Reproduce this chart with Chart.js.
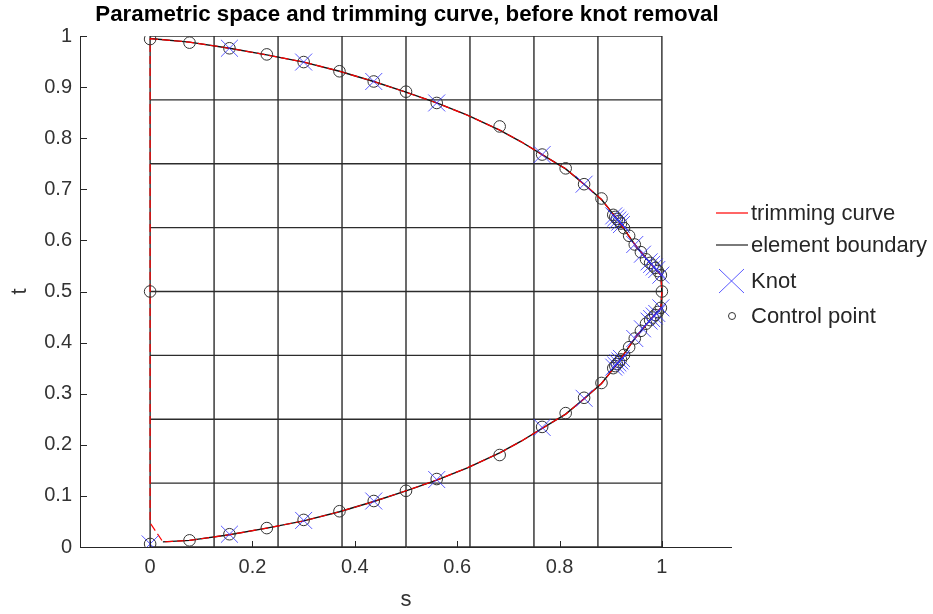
<!DOCTYPE html>
<html>
<head>
<meta charset="utf-8">
<script src="https://cdn.jsdelivr.net/npm/chart.js@4/dist/chart.umd.min.js"></script>
<style>
html,body{margin:0;padding:0;background:#fff;}
#wrap{width:933px;height:614px;position:relative;}
</style>
</head>
<body>
<div id="wrap"><canvas id="c" width="933" height="614"></canvas></div>
<script>
// ---- data ----
const titleText = 'Parametric space and trimming curve, before knot removal';
const xLabel = 's';
const yLabel = 't';
const xTicks = [0, 0.2, 0.4, 0.6, 0.8, 1];
const xTickLabels = ['0', '0.2', '0.4', '0.6', '0.8', '1'];
const yTicks = [0, 0.1, 0.2, 0.3, 0.4, 0.5, 0.6, 0.7, 0.8, 0.9, 1];
const yTickLabels = ['0', '0.1', '0.2', '0.3', '0.4', '0.5', '0.6', '0.7', '0.8', '0.9', '1'];
const xRange = [-0.137, 1.137];
const yRange = [0, 1];

// element boundaries (knot lines of the parametric space)
const elemS = [0, 0.125, 0.25, 0.375, 0.5, 0.625, 0.75, 0.875, 1];
const elemT = [0, 0.125, 0.25, 0.375, 0.5, 0.625, 0.75, 0.875, 1];

// trimming curve
const curveS = [0, 0.077, 0.155, 0.228, 0.300, 0.370, 0.437, 0.500, 0.560, 0.620, 0.683, 0.725, 0.766, 0.812, 0.848, 0.882, 0.910, 0.947, 0.975, 0.998, 1.000,
                0.998, 0.975, 0.947, 0.910, 0.882, 0.848, 0.812, 0.766, 0.725, 0.683, 0.620, 0.560, 0.500, 0.437, 0.370, 0.300, 0.228, 0.155, 0.077, 0.025, 0, 0];
const curveT = [0.995, 0.988, 0.976, 0.963, 0.949, 0.931, 0.911, 0.890, 0.869, 0.845, 0.816, 0.793, 0.768, 0.740, 0.710, 0.680, 0.645, 0.592, 0.558, 0.532, 0.500,
                0.468, 0.442, 0.408, 0.355, 0.320, 0.290, 0.260, 0.232, 0.207, 0.184, 0.155, 0.131, 0.110, 0.089, 0.069, 0.051, 0.037, 0.024, 0.013, 0.010, 0.047, 0.995];

// knots
const knotS = [0.155, 0.300, 0.437, 0.560, 0.766, 0.848, 0.906, 0.910, 0.914, 0.918, 0.921, 0.947, 0.962, 0.975, 0.980, 0.985, 0.990, 0.998,
               0.998, 0.990, 0.985, 0.980, 0.975, 0.962, 0.947, 0.921, 0.918, 0.914, 0.910, 0.906, 0.848, 0.766, 0.560, 0.437, 0.300, 0.155, 0];
const knotT = [0.976, 0.949, 0.911, 0.869, 0.768, 0.710, 0.648, 0.644, 0.640, 0.636, 0.631, 0.592, 0.573, 0.558, 0.553, 0.548, 0.543, 0.532,
               0.468, 0.457, 0.452, 0.447, 0.442, 0.427, 0.408, 0.369, 0.364, 0.360, 0.356, 0.352, 0.291, 0.234, 0.132, 0.090, 0.052, 0.025, 0.006];

// control points
const ctrlS = [0, 0.077, 0.155, 0.228, 0.300, 0.370, 0.437, 0.500, 0.560, 0.683, 0.766, 0.812, 0.848, 0.882,
               0.905, 0.909, 0.912, 0.916, 0.920, 0.926, 0.936, 0.947, 0.959, 0.969, 0.977, 0.982, 0.987, 0.992, 0.998, 1.000,
               0.998, 0.992, 0.987, 0.982, 0.977, 0.969, 0.959, 0.947, 0.936, 0.926, 0.920, 0.916, 0.912, 0.909, 0.905,
               0.882, 0.848, 0.812, 0.766, 0.683, 0.560, 0.500, 0.437, 0.370, 0.300, 0.228, 0.155, 0.077, 0, 0];
const ctrlT = [0.994, 0.987, 0.976, 0.964, 0.949, 0.931, 0.911, 0.891, 0.869, 0.823, 0.768, 0.741, 0.710, 0.682,
               0.650, 0.646, 0.642, 0.638, 0.633, 0.624, 0.609, 0.592, 0.577, 0.563, 0.556, 0.551, 0.546, 0.540, 0.532, 0.500,
               0.468, 0.460, 0.454, 0.449, 0.444, 0.437, 0.423, 0.408, 0.391, 0.376, 0.367, 0.362, 0.358, 0.354, 0.350,
               0.321, 0.292, 0.262, 0.235, 0.180, 0.133, 0.110, 0.090, 0.070, 0.053, 0.037, 0.025, 0.013, 0.006, 0.500];

const legendLabels = ['trimming curve', 'element boundary', 'Knot', 'Control point'];

// ---- build datasets ----
const gridPts = [];
elemS.forEach(s => { gridPts.push({x: s, y: elemT[0]}, {x: s, y: elemT[elemT.length - 1]}, {x: s, y: null}); });
elemT.forEach(t => { gridPts.push({x: elemS[0], y: t}, {x: elemS[elemS.length - 1], y: t}, {x: elemS[0], y: null}); });
const curvePts = curveS.map((s, i) => ({x: s, y: curveT[i]}));
const boundaryPts = curvePts.slice(0, curvePts.length - 2);
const knotPts = knotS.map((s, i) => ({x: s, y: knotT[i]}));
const ctrlPts = ctrlS.map((s, i) => ({x: s, y: ctrlT[i]}));

const FONT = "'Liberation Sans', Arial, Helvetica, sans-serif";
const AX = '#262626';
const KNOT_COL = 'rgba(50,50,255,0.8)';

const decor = {
  id: 'decor',
  afterDraw(chart) {
    const ctx = chart.ctx, xs = chart.scales.x, ys = chart.scales.y, a = chart.chartArea;
    ctx.save();
    // axes lines
    ctx.strokeStyle = AX; ctx.lineWidth = 1;
    ctx.beginPath();
    ctx.moveTo(a.left + 0.5, a.top); ctx.lineTo(a.left + 0.5, a.bottom + 0.5); ctx.lineTo(a.right, a.bottom + 0.5);
    ctx.stroke();
    // inward ticks
    ctx.beginPath();
    xTicks.forEach(v => { const p = Math.round(xs.getPixelForValue(v)) + 0.5; ctx.moveTo(p, a.bottom); ctx.lineTo(p, a.bottom - 6); });
    yTicks.forEach(v => { const p = Math.round(ys.getPixelForValue(v)) + 0.5; ctx.moveTo(a.left, p); ctx.lineTo(a.left + 7, p); });
    ctx.stroke();
    // tick labels
    ctx.fillStyle = '#333';
    ctx.font = '20px ' + FONT;
    ctx.textAlign = 'center'; ctx.textBaseline = 'middle';
    xTicks.forEach((v, i) => ctx.fillText(xTickLabels[i], xs.getPixelForValue(v), a.bottom + 20));
    ctx.textAlign = 'right';
    yTicks.forEach((v, i) => ctx.fillText(yTickLabels[i], a.left - 8, ys.getPixelForValue(v)));
    // axis titles
    ctx.font = '22px ' + FONT;
    ctx.textAlign = 'center';
    ctx.fillText(xLabel, (a.left + a.right) / 2, 600);
    ctx.save(); ctx.translate(20, (a.top + a.bottom) / 2); ctx.rotate(-Math.PI / 2);
    ctx.fillText(yLabel, 0, 0); ctx.restore();
    // title
    ctx.fillStyle = '#000';
    ctx.font = 'bold 22.3px ' + FONT;
    ctx.fillText(titleText, (a.left + a.right) / 2 + 1, 15);
    // legend
    const lx = 716, tx = 751, rows = [213, 245, 281, 316];
    ctx.lineWidth = 1.2;
    ctx.strokeStyle = '#ff0000';
    ctx.beginPath(); ctx.moveTo(lx, rows[0]); ctx.lineTo(lx + 32, rows[0]); ctx.stroke();
    ctx.strokeStyle = '#222';
    ctx.beginPath(); ctx.moveTo(lx, rows[1]); ctx.lineTo(lx + 32, rows[1]); ctx.stroke();
    ctx.strokeStyle = KNOT_COL; ctx.lineWidth = 1;
    ctx.beginPath();
    ctx.moveTo(lx + 3, rows[2] - 12); ctx.lineTo(lx + 28, rows[2] + 12);
    ctx.moveTo(lx + 28, rows[2] - 12); ctx.lineTo(lx + 3, rows[2] + 12);
    ctx.stroke();
    ctx.strokeStyle = '#333';
    ctx.beginPath(); ctx.arc(lx + 16, rows[3], 3.5, 0, Math.PI * 2); ctx.stroke();
    ctx.fillStyle = '#262626';
    ctx.font = '22px ' + FONT;
    ctx.textAlign = 'left';
    legendLabels.forEach((l, i) => ctx.fillText(l, tx, rows[i] + 1));
    ctx.restore();
  }
};

new Chart(document.getElementById('c'), {
  type: 'scatter',
  data: {
    datasets: [
      {label: 'grid', data: gridPts, showLine: true, borderColor: 'rgba(15,15,15,0.88)', borderWidth: 1.4, pointRadius: 0, spanGaps: false, order: 5},
      {label: legendLabels[1], data: boundaryPts, showLine: true, borderColor: '#111', borderWidth: 1.4, pointRadius: 0, order: 4},
      {label: legendLabels[0], data: curvePts, showLine: true, borderColor: '#ff0000', borderWidth: 1.2, borderDash: [8, 4], pointRadius: 0, order: 3},
      {label: legendLabels[3], data: ctrlPts, showLine: false, pointStyle: 'circle', pointRadius: 5.8, pointBorderColor: '#333', pointBackgroundColor: 'rgba(0,0,0,0)', pointBorderWidth: 1, order: 2},
      {label: legendLabels[2], data: knotPts, showLine: false, pointStyle: 'crossRot', pointRadius: 12, pointBorderColor: KNOT_COL, pointBorderWidth: 1, order: 1}
    ]
  },
  options: {
    responsive: false,
    animation: false,
    events: [],
    layout: {padding: {left: 0, top: 36, right: 201, bottom: 0}},
    plugins: {legend: {display: false}, tooltip: {enabled: false}, title: {display: false}},
    scales: {
      x: {type: 'linear', min: xRange[0], max: xRange[1], grid: {display: false, drawTicks: false}, border: {display: false}, ticks: {display: false},
          afterFit: s => { s.height = 67; }},
      y: {type: 'linear', min: yRange[0], max: yRange[1], grid: {display: false, drawTicks: false}, border: {display: false}, ticks: {display: false},
          afterFit: s => { s.width = 80; }}
    }
  },
  plugins: [decor]
});
</script>
</body>
</html>
